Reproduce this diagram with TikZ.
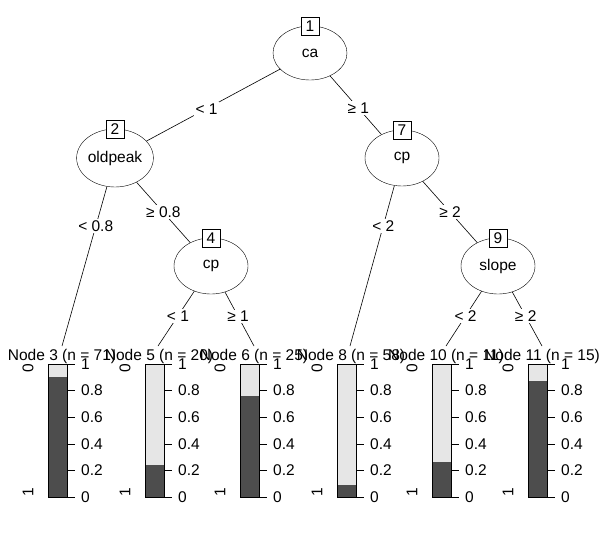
\documentclass[tikz,border=0pt]{standalone}
\usepackage{fontspec}
\setmainfont{Liberation Sans}
\usetikzlibrary{shapes.geometric}
\definecolor{darkbar}{HTML}{4D4D4D}
\definecolor{lightbar}{HTML}{E6E6E6}
\begin{document}
\begin{tikzpicture}[x=1pt,y=-1pt,font=\fontsize{15.5}{18}\selectfont,
  inner/.style={draw,ellipse,minimum width=74pt,minimum height=54pt,inner sep=0pt},
  idbox/.style={draw,fill=white,inner sep=2pt,minimum width=18pt,minimum height=18pt},
  elab/.style={fill=white,inner sep=1.5pt},
  edge/.style={draw,line width=0.6pt}]
\useasboundingbox (0,0) rectangle (615,547);
% inner nodes
\node[inner] (n1) at (310,53) {ca};
\node[inner,minimum width=76pt,minimum height=58pt] (n2) at (115,158) {oldpeak};
\node[inner,minimum height=56pt] (n4) at (211,266) {cp};
\node[inner,minimum height=56pt] (n7) at (402,158) {cp};
\node[inner,minimum height=56pt] (n9) at (498,266) {slope};
% leaf tops
\coordinate (l3) at (62,346);
\coordinate (l5) at (158,346);
\coordinate (l6) at (254,346);
\coordinate (l8) at (350,346);
\coordinate (l10) at (446,346);
\coordinate (l11) at (542,346);
% edges
\draw[edge] (n1) -- node[elab,pos=0.55] {< 1} (n2);
\draw[edge] (n1) -- node[elab,pos=0.55] {≥ 1} (n7);
\draw[edge] (n2) -- node[elab,pos=0.25] {< 0.8} (l3);
\draw[edge] (n2) -- node[elab,pos=0.5] {≥ 0.8} (n4);
\draw[edge] (n4) -- node[elab,pos=0.45] {< 1} (l5);
\draw[edge] (n4) -- node[elab,pos=0.45] {≥ 1} (l6);
\draw[edge] (n7) -- node[elab,pos=0.25] {< 2} (l8);
\draw[edge] (n7) -- node[elab,pos=0.5] {≥ 2} (n9);
\draw[edge] (n9) -- node[elab,pos=0.45] {< 2} (l10);
\draw[edge] (n9) -- node[elab,pos=0.45] {≥ 2} (l11);
% id boxes
\node[idbox] (b1) at (n1.north) {1};
\node[idbox] (b2) at (n2.north) {2};
\node[idbox] (b4) at (n4.north) {4};
\node[idbox] (b7) at (n7.north) {7};
\node[idbox] (b9) at (n9.north) {9};
% leaves
\foreach \x/\id/\n/\f in {48/3/71/0.90, 145/5/20/0.24, 240/6/25/0.76, 337/8/58/0.09, 432/10/11/0.26, 528/11/15/0.87}{
  \fill[lightbar] (\x,364) rectangle (\x+19,497);
  \fill[darkbar] (\x,497-133*\f) rectangle (\x+19,497);
  \draw (\x,364) rectangle (\x+19,497);
  \node[inner sep=0pt,anchor=base] (t\id) at (\x+14,360) {Node \id\ (n = \n)};
  \foreach \v/\l in {0/0,0.2/0.2,0.4/0.4,0.6/0.6,0.8/0.8,1/1}{
    \draw (\x+19,497-133*\v) -- (\x+27,497-133*\v);
    \node[anchor=west,inner sep=0pt] (k\id-\l) at (\x+33,497-133*\v) {\l};
  }
  \node[rotate=90,inner sep=0pt] (z\id) at (\x-20,368) {0};
  \node[rotate=90,inner sep=0pt] (o\id) at (\x-20,492) {1};
}
\end{tikzpicture}
\end{document}
